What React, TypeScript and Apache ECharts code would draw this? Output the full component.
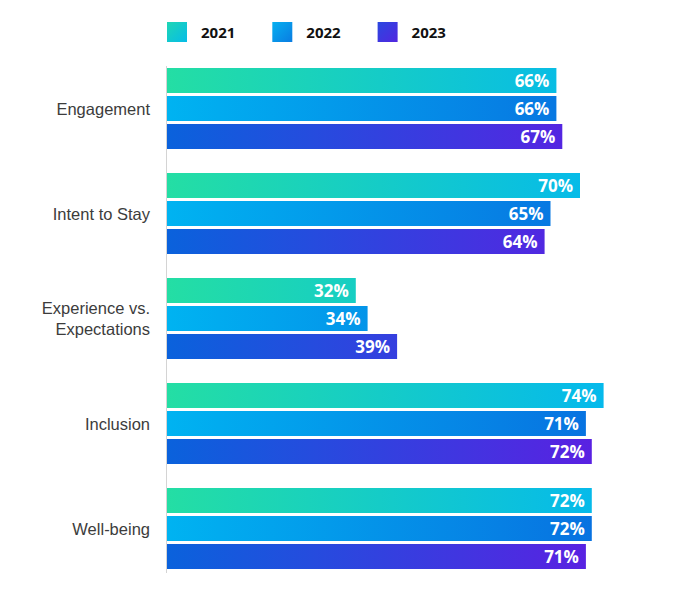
import React, { useEffect, useRef } from "react";
import * as echarts from "echarts";

const categories = ["Engagement", "Intent to Stay", "Experience vs.\nExpectations", "Inclusion", "Well-being"];
const seriesNames = ["2021", "2022", "2023"];
const values2021 = [66, 70, 32, 74, 72];
const values2022 = [66, 65, 34, 71, 72];
const values2023 = [67, 64, 39, 72, 71];

const barStops = [
  ["#24DEA4", "#05B9EC"],
  ["#00B3F1", "#0870E0"],
  ["#0A62DC", "#5C1FE2"],
];
const iconStops = [
  ["#1FD6B4", "#06BCE8"],
  ["#06B0F0", "#0A7CE2"],
  ["#2A48E0", "#5226E0"],
];

export default function App() {
  const ref = useRef<HTMLDivElement>(null);
  useEffect(() => {
    if (!ref.current) return;
    const chart = echarts.init(ref.current, null, { renderer: "svg" });
    const gradX0 = 167;
    const gradX1 = 605;
    const allValues = [values2021, values2022, values2023];
    const series = allValues.map((vals, i) => ({
      name: seriesNames[i],
      type: "bar",
      data: vals,
      barWidth: 25,
      barGap: "12%",
      itemStyle: {
        color: {
          type: "linear",
          x: gradX0,
          y: 0,
          x2: gradX1,
          y2: 0,
          global: true,
          colorStops: [
            { offset: 0, color: barStops[i][0] },
            { offset: 1, color: barStops[i][1] },
          ],
        },
      },
      label: {
        show: true,
        position: "insideRight",
        distance: 7,
        formatter: "{c}%",
        color: "#ffffff",
        fontSize: 17,
        fontWeight: "bold",
        fontFamily: "Open Sans",
      },
    }));
    chart.setOption({
      animation: false,
      legend: {
        top: 17,
        left: 162,
        itemWidth: 20,
        itemHeight: 20,
        itemGap: 37,
        icon: "rect",
        data: seriesNames.map((n, i) => ({
          name: n,
          itemStyle: {
            color: {
              type: "linear",
              x: 0,
              y: 0,
              x2: 1,
              y2: 1,
              colorStops: [
                { offset: 0, color: iconStops[i][0] },
                { offset: 1, color: iconStops[i][1] },
              ],
            },
          },
        })),
        textStyle: {
          fontSize: 15,
          fontWeight: "bold",
          color: "#111111",
          fontFamily: "Open Sans",
          padding: [0, 0, 0, 9],
        },
      },
      grid: { left: 167, right: 52, top: 56, bottom: 19, containLabel: false },
      xAxis: {
        type: "value",
        min: 0,
        max: 80,
        show: false,
      },
      yAxis: {
        type: "category",
        data: categories.map((c) =>
          c.indexOf("\n") >= 0 ? { value: c, textStyle: { padding: [0, 0, 14, 0] } } : c
        ),
        inverse: true,
        axisLine: { show: false },
        axisTick: { show: false },
        axisLabel: {
          margin: 17,
          fontSize: 16.5,
          color: "#3c3c3c",
          fontFamily: "Liberation Sans",
          lineHeight: 21,
          align: "right",
        },
      },
      graphic: [
        {
          type: "line",
          shape: { x1: 166.5, y1: 66, x2: 166.5, y2: 573 },
          style: { stroke: "#d4d4d4", lineWidth: 1 },
          z: 10,
        },
      ],
      series,
    });
    return () => chart.dispose();
  }, []);
  return (
    <div
      ref={ref}
      style={{ position: "fixed", left: 0, top: 0, width: 691, height: 600, background: "#fff" }}
    />
  );
}
